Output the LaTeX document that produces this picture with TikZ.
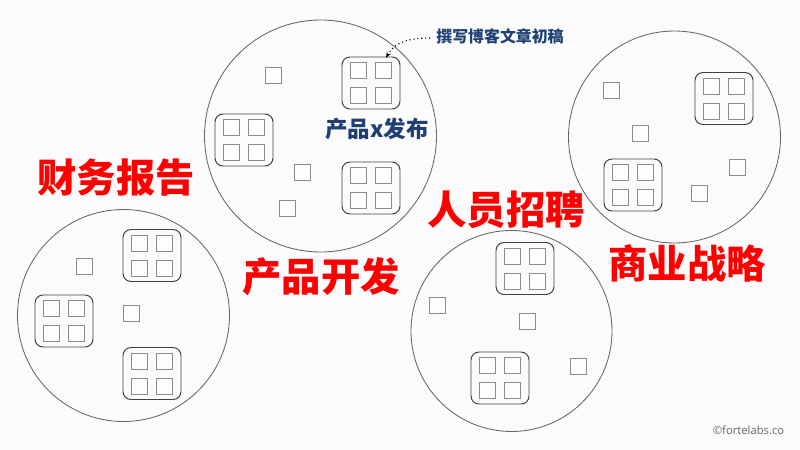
\documentclass[tikz,border=0pt]{standalone}
\usepackage{fontspec}
\usepackage{tikz}
\usetikzlibrary{arrows.meta}
\newfontfamily\cjk{Noto Sans CJK SC}
\setsansfont{Open Sans}
\definecolor{paper}{HTML}{FBFBFB}
\definecolor{inkblue}{HTML}{1F3F75}
\tikzset{area/.style={circle,draw=black!60,line width=0.6pt,inner sep=0mm,outer sep=0mm}}
\tikzset{project/.style={rectangle,rounded corners=2mm,draw=black!75,line width=0.7pt,minimum width=14.5mm,minimum height=13mm,inner sep=0mm}}
\tikzset{note/.style={rectangle,draw=black!45,line width=0.65pt,fill=white!60!paper,minimum size=4mm,inner sep=0mm}}
\tikzset{title/.style={text=red,font=\cjk\bfseries\fontsize{28}{31}\selectfont,inner sep=0mm}}
\tikzset{tag/.style={text=inkblue,font=\cjk\bfseries,inner sep=0mm}}

\begin{document}
\begin{tikzpicture}[x=0.25mm,y=-0.25mm]
\fill[paper] (0,0) rectangle (800,450);
\useasboundingbox (0,0) rectangle (800,450);

 \node[area,minimum size=53mm] (finance) at (123.5,315.5) {};
 \node[area,minimum size=58mm] (product) at (320.5,136) {};
 \node[area,minimum size=53mm] (strategy) at (674.5,137) {};
 \node[area,minimum size=50.25mm] (hiring) at (511.5,331) {};

% boxes with four notes in them
\foreach \k/\x/\y in {1/152/255.5, 2/64/321, 3/152/373.5, 4/371/83, 5/244/140, 6/371/188, 7/724/98.5, 8/633/185, 9/525/268.5, 10/500/378}{
             \node[project] (P\k) at (\x,\y) {};
             \node[note] at (\x-12.5,\y-12.5) {};
             \node[note] at (\x+12.5,\y-12.5) {};
             \node[note] at (\x-12.5,\y+12.5) {};
             \node[note] at (\x+12.5,\y+12.5) {};
             }

% loose notes
\foreach \k/\x/\y in {1/84.5/266, 2/131/313.5, 3/273/75, 4/302.5/172, 5/287/208, 6/611.5/90.5, 7/640/133, 8/737/167, 9/699/193.5, 10/437.5/305, 11/527/321, 12/578/366}{
             \node[note] (N\k) at (\x,\y) {};
             }

 \node[title] (tfinance) at (116,178) {财务报告};
 \node[title] (tproduct) at (321,277) {产品开发};
 \node[title] (thiring) at (506,210) {人员招聘};
 \node[title] (tstrategy) at (687,263) {商业战略};

 \node[tag,font=\cjk\bfseries\fontsize{16}{19}\selectfont] (launch) at (377,129) {产品x发布};
 \node[tag,font=\cjk\bfseries\fontsize{11.3}{14}\selectfont] (draft) at (500,36) {撰写博客文章初稿};
 \coordinate (hit) at (386,58);
 \draw[dotted,thick,-{Stealth[length=1.5mm]}] ([xshift=-1.5mm,yshift=-0.5mm]draft.west) to[out=180,in=62] (hit);

 \node[font=\sffamily\fontsize{8}{10}\selectfont,text=black!60,inner sep=0mm] (credit) at (748.5,430) {©fortelabs.co};
\end{tikzpicture}
\end{document}
